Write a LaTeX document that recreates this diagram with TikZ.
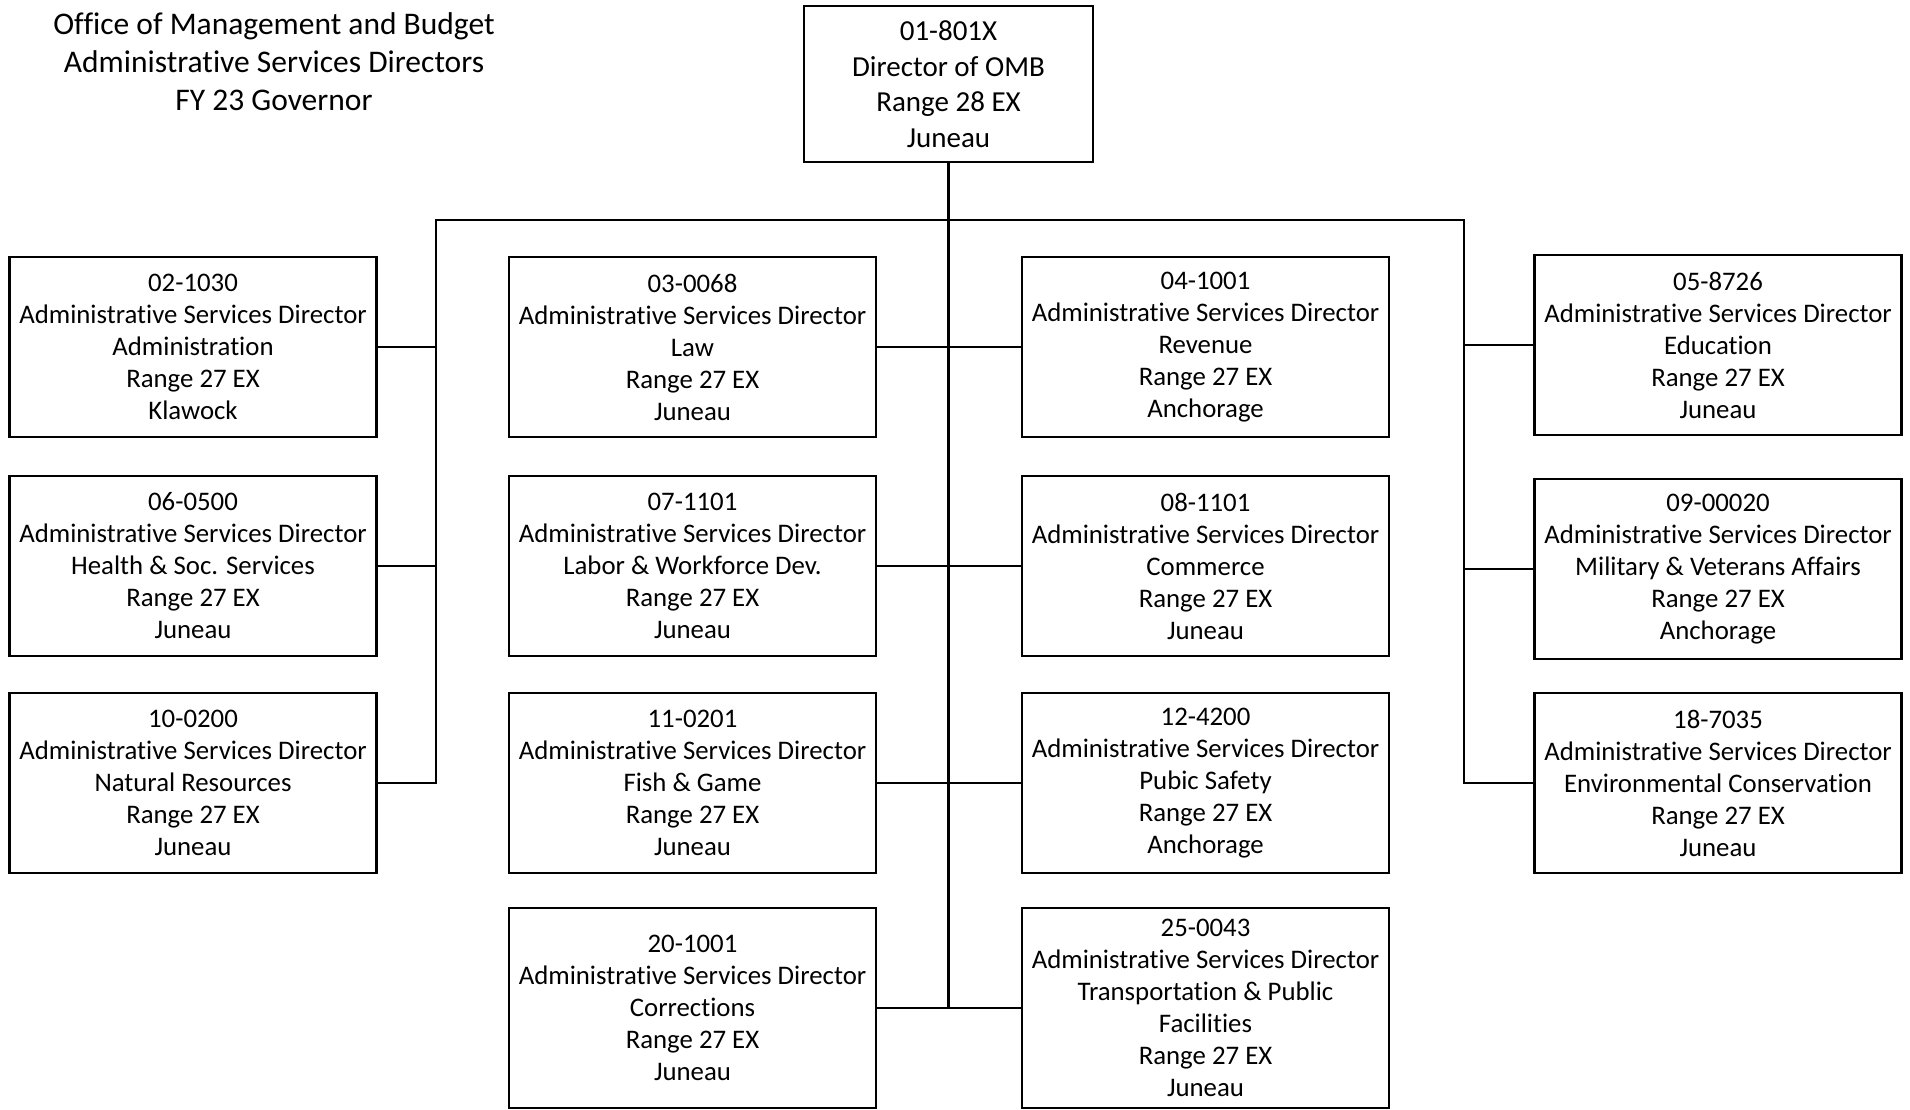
\documentclass[tikz,border=0pt]{standalone}
\usepackage{fontspec}
\setmainfont{Carlito}[Ligatures=NoCommon]
\usetikzlibrary{calc}

\tikzset{
  post/.style={draw,line width=2.4pt,minimum width=367pt,minimum height=180pt,align=center,inner sep=0pt,font=\fontsize{26.8}{32}\selectfont},
  link/.style={line width=2.2pt},
}

\begin{document}
\begin{tikzpicture}[x=1pt,y=-1pt]
\useasboundingbox (0,0) rectangle (1910,1109);

% Title
\node(title)[align=center,font=\fontsize{31.5}{38}\selectfont] at (274,62) {Office of Management and Budget\\Administrative Services Directors\\FY 23 Governor};

% Director
\node(omb)[post,minimum width=289pt,minimum height=156pt,font=\fontsize{29}{35.5}\selectfont] at (948.5,84) {01-801X\\Director of OMB\\Range 28 EX\\Juneau};

% Left column
\node(d02)[post] at (193,347) {02-1030\\Administrative Services Director\\Administration\\Range 27 EX\\Klawock};
\node(d06)[post] at (193,566) {06-0500\\Administrative Services Director\\Health \& Soc. Services\\Range 27 EX\\Juneau};
\node(d10)[post] at (193,783) {10-0200\\Administrative Services Director\\Natural Resources\\Range 27 EX\\Juneau};

% Middle columns
\node(d03)[post] at (692.5,347) {03-0068\\Administrative Services Director\\Law\\Range 27 EX\\Juneau};
\node(d07)[post] at (692.5,566) {07-1101\\Administrative Services Director\\Labor \& Workforce Dev.\\Range 27 EX\\Juneau};
\node(d11)[post] at (692.5,783) {11-0201\\Administrative Services Director\\Fish \& Game\\Range 27 EX\\Juneau};
\node(d20)[post,minimum height=200pt] at (692.5,1008) {20-1001\\Administrative Services Director\\Corrections\\Range 27 EX\\Juneau};

\node(d04)[post] at (1205.5,347) {04-1001\\Administrative Services Director\\Revenue\\Range 27 EX\\Anchorage};
\node(d08)[post] at (1205.5,566) {08-1101\\Administrative Services Director\\Commerce\\Range 27 EX\\Juneau};
\node(d12)[post] at (1205.5,783) {12-4200\\Administrative Services Director\\Pubic Safety\\Range 27 EX\\Anchorage};
\node(d25)[post,minimum height=200pt] at (1205.5,1008) {25-0043\\Administrative Services Director\\Transportation \& Public\\Facilities\\Range 27 EX\\Juneau};

% Right column
\node(d05)[post] at (1718,345) {05-8726\\Administrative Services Director\\Education\\Range 27 EX\\Juneau};
\node(d09)[post] at (1718,569) {09-00020\\Administrative Services Director\\Military \& Veterans Affairs\\Range 27 EX\\Anchorage};
\node(d18)[post] at (1718,783) {18-7035\\Administrative Services Director\\Environmental Conservation\\Range 27 EX\\Juneau};

% Lines
\coordinate (lbus) at (436,220);
\coordinate (rbus) at (1464,220);
\draw[link] (omb.south) -- (omb.south |- d20.east);
\draw[link] (d10.east) -- (d10.east -| lbus) -- (lbus) -- (rbus) -- (rbus |- d18.west) -- (d18.west);
\foreach \n in {d02,d06} \draw[link] (\n.east) -- (\n.east -| lbus);
\foreach \n in {d05,d09} \draw[link] (\n.west) -- (\n.west -| rbus);
\foreach \n in {d03,d07,d11,d20} \draw[link] (\n.east) -- (\n.east -| omb.south);
\foreach \n in {d04,d08,d12,d25} \draw[link] (\n.west) -- (\n.west -| omb.south);
\end{tikzpicture}
\end{document}
